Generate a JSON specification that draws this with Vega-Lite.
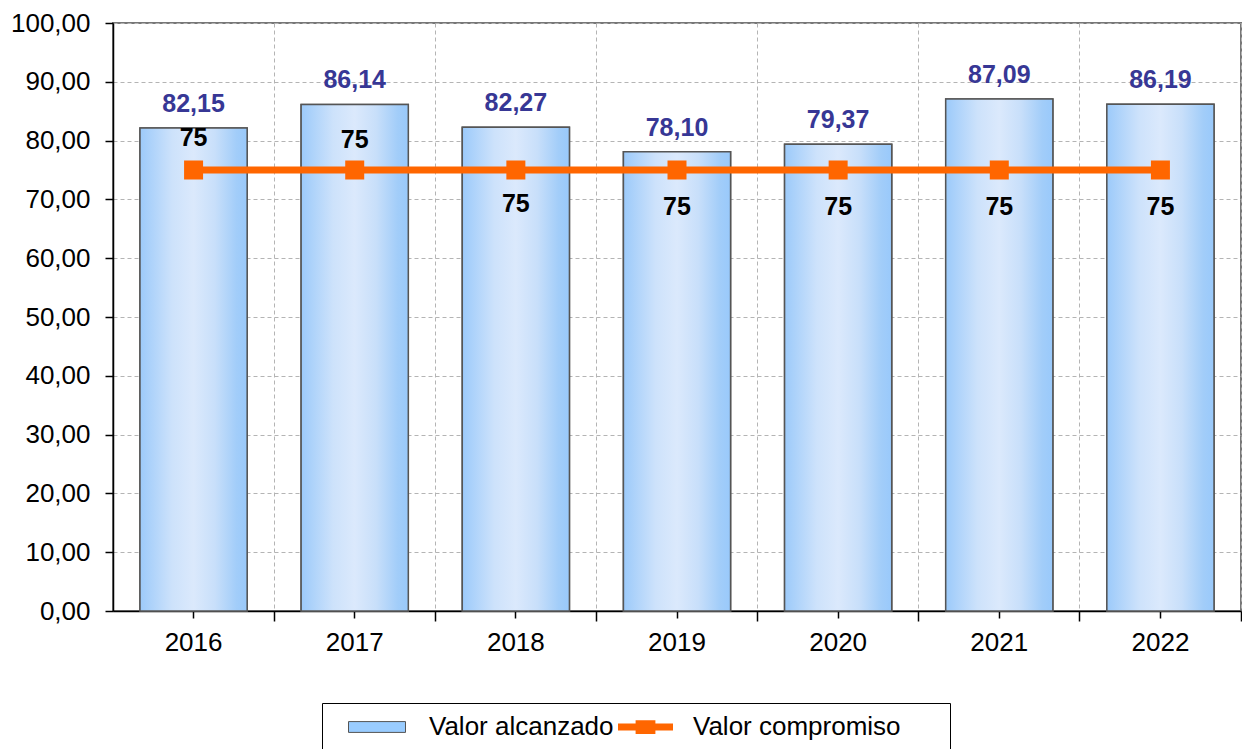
{
  "$schema": "https://vega.github.io/schema/vega-lite/v6.json",
  "width": 1128,
  "height": 588,
  "autosize": {"type": "none"},
  "padding": {"left": 113, "top": 23, "right": 1, "bottom": 138},
  "background": "white",
  "config": {
    "font": "Liberation Sans",
    "locale": {"number": {"decimal": ",", "thousands": ".", "grouping": [3], "currency": ["", " €"]}},
    "view": {"stroke": "#777777", "strokeWidth": 2},
    "axis": {"labelFont": "Liberation Sans", "labelColor": "#000000", "labelFontSize": 26}
  },
  "data": {
    "values": [
      {"year": "2016", "series": "Valor alcanzado", "value": 82.15},
      {"year": "2017", "series": "Valor alcanzado", "value": 86.14},
      {"year": "2018", "series": "Valor alcanzado", "value": 82.27},
      {"year": "2019", "series": "Valor alcanzado", "value": 78.10},
      {"year": "2020", "series": "Valor alcanzado", "value": 79.37},
      {"year": "2021", "series": "Valor alcanzado", "value": 87.09},
      {"year": "2022", "series": "Valor alcanzado", "value": 86.19},
      {"year": "2016", "series": "Valor compromiso", "value": 75},
      {"year": "2017", "series": "Valor compromiso", "value": 75},
      {"year": "2018", "series": "Valor compromiso", "value": 75},
      {"year": "2019", "series": "Valor compromiso", "value": 75},
      {"year": "2020", "series": "Valor compromiso", "value": 75},
      {"year": "2021", "series": "Valor compromiso", "value": 75},
      {"year": "2022", "series": "Valor compromiso", "value": 75}
    ]
  },
  "encoding": {
    "x": {"field": "year", "type": "ordinal", "title": null, "axis": null, "scale": {"paddingInner": 0.335, "paddingOuter": 0.1675}},
    "y": {"field": "value", "type": "quantitative", "title": null, "scale": {"domain": [0, 100], "nice": false},
      "axis": {"values": [0, 10, 20, 30, 40, 50, 60, 70, 80, 90, 100],
        "format": ".2f",
        "grid": true, "gridColor": "#b4b4b4", "gridDash": [4, 3], "gridWidth": 1,
        "domainColor": "#000000", "domainWidth": 1.5, "tickColor": "#000000", "tickWidth": 1.5, "tickSize": 8,
        "labelPadding": 15}}
  },
  "layer": [
    {
      "transform": [{"filter": "datum.series == 'Valor alcanzado'"}],
      "mark": {"type": "bar", "stroke": "#555555", "strokeWidth": 1.5},
      "encoding": {
        "fill": {"field": "series", "type": "nominal",
          "scale": {"domain": ["Valor alcanzado"], "range": ["#99ccff"]},
          "legend": {
            "title": "\u00a0", "titleOrient": "right", "titleFontSize": 1, "titlePadding": 325,
            "orient": "none", "legendX": 209, "legendY": 680, "direction": "horizontal",
            "strokeColor": "#000000", "padding": 11,
            "labelFontSize": 26, "labelFont": "Liberation Sans", "labelColor": "#000000", "labelLimit": 400,
            "labelOffset": 23, "symbolSize": 3249, "symbolOffset": 15, "clipHeight": 26,
            "symbolType": "M-1,-0.19H1V0.19H-1Z", "symbolStrokeColor": "#555555", "symbolStrokeWidth": 1, "symbolOpacity": 1
          }
        }
      }
    },
    {
      "transform": [{"filter": "datum.series == 'Valor alcanzado'"}],
      "mark": {
        "type": "bar",
        "fill": {
          "gradient": "linear", "x1": 0, "x2": 1, "y1": 0, "y2": 0,
          "stops": [
            {"offset": 0, "color": "#9ccafa"},
            {"offset": 0.3, "color": "#cde2fb"},
            {"offset": 0.5, "color": "#dbe9fc"},
            {"offset": 0.7, "color": "#c8dffa"},
            {"offset": 0.9, "color": "#a2cdf9"},
            {"offset": 1, "color": "#99c9fb"}
          ]
        },
        "stroke": "#555555",
        "strokeWidth": 1.5
      },
      "encoding": {
        "x": {"field": "year", "type": "ordinal", "title": null,
          "axis": {"bandPosition": 1.2519, "labels": false, "grid": true, "gridColor": "#b4b4b4", "gridDash": [4, 3], "gridWidth": 1,
            "domainColor": "#000000", "domainWidth": 1.5, "tickColor": "#000000", "tickWidth": 1.5, "tickSize": 10}}
      }
    },
    {
      "transform": [{"filter": "datum.series == 'Valor alcanzado'"}],
      "mark": {"type": "text", "baseline": "alphabetic", "dy": -16, "fontSize": 25, "fontWeight": "bold", "color": "#373795", "font": "Liberation Sans"},
      "encoding": {
        "text": {"field": "value", "type": "quantitative", "format": ".2f"}
      }
    },
    {
      "transform": [{"filter": "datum.series == 'Valor compromiso'"}],
      "mark": {"type": "line", "strokeWidth": 7, "color": "#ff6600"},
      "encoding": {
        "x": {"field": "year", "type": "ordinal", "title": null,
          "axis": {"orient": "bottom", "labels": true, "grid": false, "domain": false, "tickColor": "#000000", "tickWidth": 1.5, "tickSize": 7,
            "labelAngle": 0, "labelBaseline": "middle", "labelPadding": 24, "labelFontSize": 26}}
      }
    },
    {
      "transform": [{"filter": "datum.series == 'Valor compromiso'"}],
      "mark": {"type": "point", "shape": "square", "filled": true, "size": 361, "opacity": 1},
      "encoding": {
        "color": {"field": "series", "type": "nominal",
          "scale": {"domain": ["Valor compromiso"], "range": ["#ff6600"]},
          "legend": {
            "title": null, "orient": "none", "legendX": 505, "legendY": 691, "direction": "horizontal",
            "padding": 0,
            "labelFontSize": 26, "labelFont": "Liberation Sans", "labelColor": "#000000", "labelLimit": 400,
            "labelOffset": 20, "symbolSize": 3025, "symbolOffset": 0, "clipHeight": 26,
            "symbolType": "M-1,-0.125H-0.36V-0.25H0.36V-0.125H1V0.125H0.36V0.25H-0.36V0.125H-1Z",
            "symbolStrokeWidth": 0, "symbolOpacity": 1
          }
        }
      }
    },
    {
      "transform": [{"filter": "datum.series == 'Valor compromiso'"}],
      "mark": {"type": "text", "baseline": "alphabetic", "fontSize": 25, "fontWeight": "bold", "color": "#000000", "font": "Liberation Sans",
        "dy": {"expr": "datum.year == '2016' ? -24 : (datum.year == '2017' ? -22 : (datum.year == '2018' ? 42 : 45))"}},
      "encoding": {
        "text": {"field": "value", "type": "quantitative", "format": "d"}
      }
    }
  ],
  "resolve": {"axis": {"x": "independent"}}
}
